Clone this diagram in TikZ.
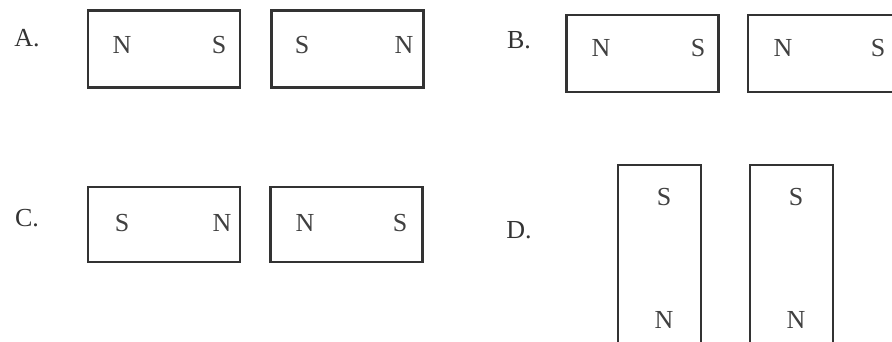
\documentclass[tikz,border=0pt]{standalone}
\usepackage{fontspec}
\setmainfont{Liberation Serif}
\usetikzlibrary{positioning}
\tikzset{
  magnet/.style={rectangle,draw=black!80,line width=2.6pt,inner sep=0pt,fill=white},
  hmagnet/.style={magnet,minimum width=152pt,minimum height=77pt},
  vmagnet/.style={magnet,minimum width=83pt,minimum height=200pt},
  pole/.style={font=\fontsize{26}{29}\selectfont,text=black!75,inner sep=0pt},
  choice/.style={font=\fontsize{26}{29}\selectfont,text=black!80,inner sep=0pt}
}

\begin{document}
\begin{tikzpicture}[x=1pt,y=-1pt]
  \useasboundingbox (0,0) rectangle (892,341);
  \clip (0,0) rectangle (892,341);

  % option A
  \node[choice] (la) at (27,38) {A.};
  \node[hmagnet] (a1) at (164,49) {};
  \node[hmagnet] (a2) at (347.5,49) {};
  \node[pole] (a1n) at (122,45) {N};
  \node[pole] (a1s) at (219,45) {S};
  \node[pole] (a2s) at (302,45) {S};
  \node[pole] (a2n) at (404,45) {N};

  % option B
  \node[choice] (lb) at (519,40) {B.};
  \node[hmagnet] (b1) at (642.5,53.5) {};
  \node[hmagnet] (b2) at (824,53.5) {};
  \node[pole] (b1n) at (601,48) {N};
  \node[pole] (b1s) at (698,48) {S};
  \node[pole] (b2n) at (783,48) {N};
  \node[pole] (b2s) at (878,48) {S};

  % option C
  \node[choice] (lc) at (27,218) {C.};
  \node[hmagnet,minimum height=75pt] (c1) at (164,224.5) {};
  \node[hmagnet,minimum height=75pt] (c2) at (346.5,224.5) {};
  \node[pole] (c1s) at (122,223) {S};
  \node[pole] (c1n) at (222,223) {N};
  \node[pole] (c2n) at (305,223) {N};
  \node[pole] (c2s) at (400,223) {S};

  % option D
  \node[choice] (ld) at (519,230) {D.};
  \node[vmagnet] (d1) at (659.5,265) {};
  \node[vmagnet] (d2) at (791.5,265) {};
  \node[pole] (d1s) at (664,197) {S};
  \node[pole] (d1n) at (664,320) {N};
  \node[pole] (d2s) at (796,197) {S};
  \node[pole] (d2n) at (796,320) {N};
\end{tikzpicture}
\end{document}
